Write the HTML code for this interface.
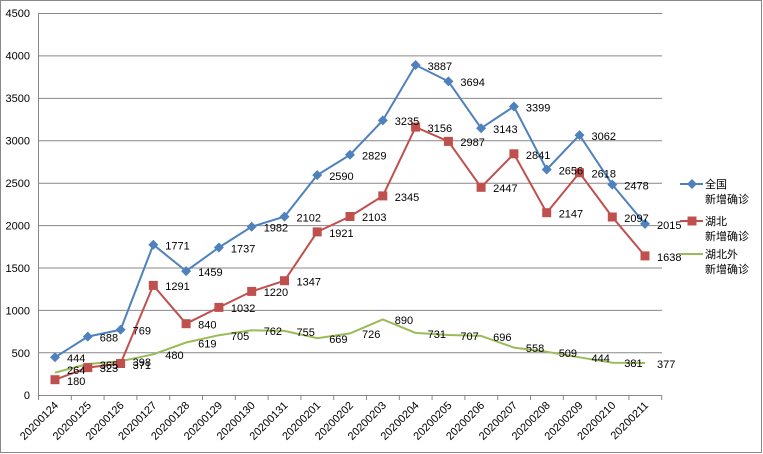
<!DOCTYPE html>
<html><head><meta charset="utf-8"><style>
html,body{margin:0;padding:0;background:#fff}
svg{display:block}
text{font-family:"Liberation Sans","Noto Sans CJK SC",sans-serif;font-size:11px;fill:#000}
</style></head><body>
<svg width="763" height="454" viewBox="0 0 763 454" xmlns="http://www.w3.org/2000/svg">
<rect x="0.5" y="0.5" width="761" height="452" fill="#fff" stroke="#888"/>
<g stroke="#888" stroke-width="1">
<line x1="38" y1="13.5" x2="662" y2="13.5"/>
<line x1="38" y1="55.9" x2="662" y2="55.9"/>
<line x1="38" y1="98.4" x2="662" y2="98.4"/>
<line x1="38" y1="140.7" x2="662" y2="140.7"/>
<line x1="38" y1="183.2" x2="662" y2="183.2"/>
<line x1="38" y1="225.6" x2="662" y2="225.6"/>
<line x1="38" y1="268" x2="662" y2="268"/>
<line x1="38" y1="310.4" x2="662" y2="310.4"/>
<line x1="38" y1="352.8" x2="662" y2="352.8"/>
<line x1="38" y1="395.5" x2="662" y2="395.5"/>
<line x1="38.5" y1="13" x2="38.5" y2="396"/>
</g>
<g stroke="#888">
<path d="M38.5 395v5M71.3 395v5M104.1 395v5M136.9 395v5M169.7 395v5M202.5 395v5M235.3 395v5M268.1 395v5M300.9 395v5M333.7 395v5M366.5 395v5M399.3 395v5M432.1 395v5M464.9 395v5M497.7 395v5M530.5 395v5M563.3 395v5M596.1 395v5M628.9 395v5M661.7 395v5"/>
</g>
<g text-anchor="end">
<text x="30" y="17">4500</text><text x="30" y="59.5">4000</text><text x="30" y="102">3500</text><text x="30" y="144.5">3000</text><text x="30" y="187">2500</text><text x="30" y="229.5">2000</text><text x="30" y="272">1500</text><text x="30" y="314.5">1000</text><text x="30" y="357">500</text><text x="30" y="399">0</text>
</g>
<g text-anchor="end" font-size="11">
<text transform="translate(59,406) rotate(-45)">20200124</text>
<text transform="translate(91.8,406) rotate(-45)">20200125</text>
<text transform="translate(124.6,406) rotate(-45)">20200126</text>
<text transform="translate(157.3,406) rotate(-45)">20200127</text>
<text transform="translate(190.1,406) rotate(-45)">20200128</text>
<text transform="translate(222.9,406) rotate(-45)">20200129</text>
<text transform="translate(255.7,406) rotate(-45)">20200130</text>
<text transform="translate(288.5,406) rotate(-45)">20200131</text>
<text transform="translate(321.2,406) rotate(-45)">20200201</text>
<text transform="translate(354,406) rotate(-45)">20200202</text>
<text transform="translate(386.8,406) rotate(-45)">20200203</text>
<text transform="translate(419.6,406) rotate(-45)">20200204</text>
<text transform="translate(452.4,406) rotate(-45)">20200205</text>
<text transform="translate(485.1,406) rotate(-45)">20200206</text>
<text transform="translate(517.9,406) rotate(-45)">20200207</text>
<text transform="translate(550.7,406) rotate(-45)">20200208</text>
<text transform="translate(583.5,406) rotate(-45)">20200209</text>
<text transform="translate(616.3,406) rotate(-45)">20200210</text>
<text transform="translate(649,406) rotate(-45)">20200211</text>
</g>
<!-- green -->
<polyline fill="none" stroke="#9bbb59" stroke-width="2" stroke-linejoin="round" points="55,372.6 87.8,364 120.6,361.2 153.3,354.3 186.1,342.5 218.9,335.2 251.7,330.3 284.5,330.9 317.2,338.2 350,333.4 382.8,319.4 415.6,332.9 448.4,335 481.1,335.9 513.9,347.6 546.7,351.8 579.5,357.3 612.3,362.7 645,363"/>
<!-- red -->
<polyline fill="none" stroke="#c0504d" stroke-width="2" points="55,379.7 87.8,367.6 120.6,363.5 153.3,285.4 186.1,323.7 218.9,307.4 251.7,291.4 284.5,280.7 317.2,231.9 350,216.5 382.8,195.9 415.6,127.1 448.4,141.4 481.1,187.3 513.9,153.8 546.7,212.7 579.5,172.8 612.3,217 645,255.9"/>
<g fill="#c0504d">
<rect x="50.5" y="375.2" width="9" height="9"/><rect x="83.3" y="363.1" width="9" height="9"/><rect x="116.1" y="359" width="9" height="9"/><rect x="148.8" y="280.9" width="9" height="9"/><rect x="181.6" y="319.2" width="9" height="9"/><rect x="214.4" y="302.9" width="9" height="9"/><rect x="247.2" y="286.9" width="9" height="9"/><rect x="280" y="276.2" width="9" height="9"/><rect x="312.7" y="227.4" width="9" height="9"/><rect x="345.5" y="212" width="9" height="9"/><rect x="378.3" y="191.4" width="9" height="9"/><rect x="411.1" y="122.6" width="9" height="9"/><rect x="443.9" y="136.9" width="9" height="9"/><rect x="476.6" y="182.8" width="9" height="9"/><rect x="509.4" y="149.3" width="9" height="9"/><rect x="542.2" y="208.2" width="9" height="9"/><rect x="575" y="168.3" width="9" height="9"/><rect x="607.8" y="212.5" width="9" height="9"/><rect x="640.5" y="251.4" width="9" height="9"/>
</g>
<!-- blue -->
<polyline fill="none" stroke="#4f81bd" stroke-width="2" points="55,357.3 87.8,336.6 120.6,329.7 153.3,244.7 186.1,271.1 218.9,247.5 251.7,226.7 284.5,216.6 317.2,175.1 350,154.8 382.8,120.4 415.6,65 448.4,81.4 481.1,128.2 513.9,106.5 546.7,169.5 579.5,135.1 612.3,184.6 645,223.9"/>
<g fill="#4f81bd">
<path d="M55 352.3l5 5-5 5-5-5zM87.8 331.6l5 5-5 5-5-5zM120.6 324.7l5 5-5 5-5-5zM153.3 239.7l5 5-5 5-5-5zM186.1 266.1l5 5-5 5-5-5zM218.9 242.5l5 5-5 5-5-5zM251.7 221.7l5 5-5 5-5-5zM284.5 211.6l5 5-5 5-5-5zM317.2 170.1l5 5-5 5-5-5zM350 149.8l5 5-5 5-5-5zM382.8 115.4l5 5-5 5-5-5zM415.6 60l5 5-5 5-5-5zM448.4 76.4l5 5-5 5-5-5zM481.1 123.2l5 5-5 5-5-5zM513.9 101.5l5 5-5 5-5-5zM546.7 164.5l5 5-5 5-5-5zM579.5 130.1l5 5-5 5-5-5zM612.3 179.6l5 5-5 5-5-5zM645 218.9l5 5-5 5-5-5z"/>
</g>
<!-- labels green -->
<g>
<text x="67" y="374">264</text><text x="99.8" y="369">365</text><text x="132.6" y="366">398</text><text x="165.3" y="359">480</text><text x="198.1" y="347.5">619</text><text x="230.9" y="340">705</text><text x="263.7" y="335">762</text><text x="296.5" y="336">755</text><text x="329.2" y="343">669</text><text x="362" y="338">726</text><text x="394.8" y="324">890</text><text x="427.6" y="338">731</text><text x="460.4" y="340">707</text><text x="493.1" y="341">696</text><text x="525.9" y="352">558</text><text x="558.7" y="357">509</text><text x="591.5" y="362">444</text><text x="624.3" y="367">381</text><text x="657" y="368">377</text>
</g>
<g>
<text x="67" y="385">180</text><text x="99.8" y="372">323</text><text x="132.6" y="369">371</text><text x="165.3" y="290">1291</text><text x="198.1" y="328.5">840</text><text x="230.9" y="312">1032</text><text x="263.7" y="296">1220</text><text x="296.5" y="285.5">1347</text><text x="329.2" y="237">1921</text><text x="362" y="221">2103</text><text x="394.8" y="201">2345</text><text x="427.6" y="132">3156</text><text x="460.4" y="146">2987</text><text x="493.1" y="192">2447</text><text x="525.9" y="159">2841</text><text x="558.7" y="217.5">2147</text><text x="591.5" y="177.5">2618</text><text x="624.3" y="222">2097</text><text x="657" y="261">1638</text>
</g>
<g>
<text x="67" y="362">444</text><text x="99.8" y="341.5">688</text><text x="132.6" y="334.5">769</text><text x="165.3" y="249.5">1771</text><text x="198.1" y="276">1459</text><text x="230.9" y="252.5">1737</text><text x="263.7" y="231.5">1982</text><text x="296.5" y="221.5">2102</text><text x="329.2" y="180">2590</text><text x="362" y="159.5">2829</text><text x="394.8" y="125">3235</text><text x="427.6" y="70">3887</text><text x="460.4" y="86">3694</text><text x="493.1" y="133">3143</text><text x="525.9" y="111.5">3399</text><text x="558.7" y="174.5">2656</text><text x="591.5" y="140">3062</text><text x="624.3" y="189.5">2478</text><text x="657" y="229">2015</text>
</g>
<!-- legend -->
<line x1="680" y1="184" x2="703" y2="184" stroke="#4f81bd" stroke-width="2"/>
<path d="M692 179l5 5-5 5-5-5z" fill="#4f81bd"/>
<text x="705" y="188">全国</text><text x="705" y="203">新增确诊</text>
<line x1="680" y1="221" x2="703" y2="221" stroke="#c0504d" stroke-width="2"/>
<rect x="687.5" y="216.5" width="9" height="9" fill="#c0504d"/>
<text x="705" y="225">湖北</text><text x="705" y="240">新增确诊</text>
<line x1="680" y1="254" x2="703" y2="254" stroke="#9bbb59" stroke-width="2"/>
<text x="705" y="258">湖北外</text><text x="705" y="273">新增确诊</text>
</svg>
</body></html>
